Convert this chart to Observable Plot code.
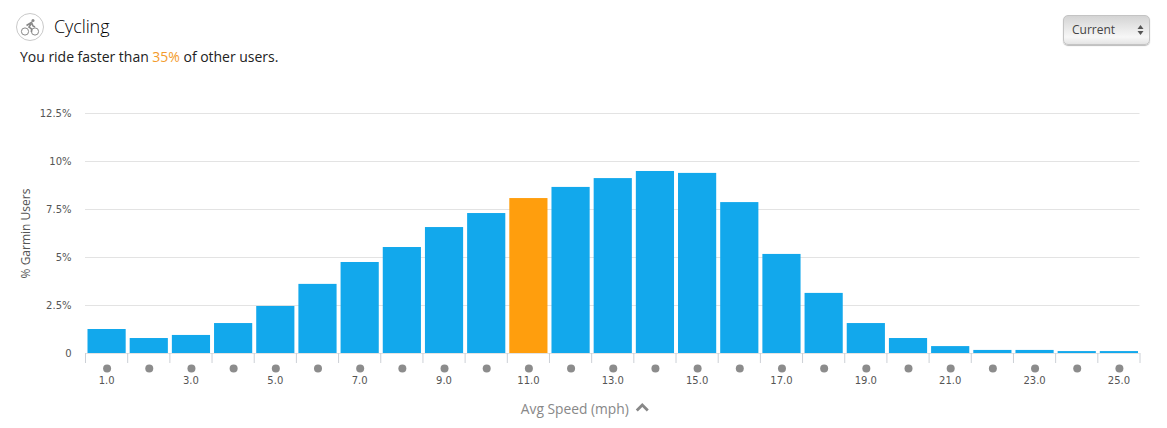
<!DOCTYPE html>
<html>
<head>
<meta charset="utf-8">
<script src="https://cdn.jsdelivr.net/npm/d3@7"></script>
<script src="https://cdn.jsdelivr.net/npm/@observablehq/plot@0.6"></script>
<style>
html,body{margin:0;padding:0;background:#fff;width:1167px;height:428px;overflow:hidden}
#head{position:relative;height:100px;font-family:"Open Sans",sans-serif;color:#222}
#icon{position:absolute;left:16px;top:13px}
#title{position:absolute;left:54px;top:13px;font-size:18px;font-weight:300;line-height:26px;color:#000;letter-spacing:-0.1px}
#sub{position:absolute;left:20px;top:47px;font-size:14px;line-height:20px;color:#222;letter-spacing:-0.02px}
#sub b{font-weight:400;color:#f39c2c}
#sel{position:absolute;left:1063px;top:15px;width:87px;height:30px;box-sizing:border-box;border:1px solid #c4c4c4;border-radius:5px;background:linear-gradient(#d4d4d4,#f7f7f7 75%,#e4e4e4);font-size:12px;line-height:28px;padding-left:8px;color:#444;box-shadow:0 1px 1px #bbb}
#sel svg{position:absolute;right:5px;top:8px}
svg{display:block}
</style>
</head>
<body>
<div id="head">
  <svg id="icon" width="28" height="28" viewBox="0 0 28 28">
    <circle cx="14" cy="14" r="13.5" fill="#fff" stroke="#c9c9c9"/>
    <circle cx="9" cy="18.5" r="3.6" fill="none" stroke="#888" stroke-width="1"/>
    <circle cx="19" cy="18.5" r="3.6" fill="none" stroke="#888" stroke-width="1"/>
    <circle cx="17" cy="7.5" r="1.5" fill="#888"/>
    <path d="M10.5 12.5 L15.5 9.5 L17 13 L19 14 M15 11 L13 14 L15.5 16 L15.5 19" fill="none" stroke="#888" stroke-width="1.6"/>
  </svg>
  <div id="title">Cycling</div>
  <div id="sub">You ride faster than <b>35%</b> of other users.</div>
  <div id="sel">Current<svg width="7" height="12" viewBox="0 0 7 12"><path d="M3.5 1 L6.5 5 L0.5 5Z M3.5 11 L6.5 7 L0.5 7Z" fill="#555"/></svg></div>
</div>
<div id="chart"></div>
<script>
const speeds = [1,2,3,4,5,6,7,8,9,10,11,12,13,14,15,16,17,18,19,20,21,22,23,24,25];
const shares = [1.25,0.78,0.94,1.56,2.45,3.6,4.74,5.52,6.56,7.29,8.07,8.65,9.11,9.48,9.38,7.86,5.16,3.13,1.56,0.78,0.36,0.16,0.16,0.1,0.1];
const yTicks = [0,2.5,5,7.5,10,12.5];
const xLabels = [1,3,5,7,9,11,13,15,17,19,21,23,25];
const userSpeed = 11;
const xEdges = [0.5,...speeds.map(s => s + 0.5)];
const rows = speeds.map((s,i) => ({speed:s, share:shares[i]}));

const chevron = {draw(c){c.moveTo(-5.5,3);c.lineTo(0,-2.5);c.lineTo(5.5,3);}};

const chart = Plot.plot({
  width:1167, height:328,
  marginLeft:85, marginRight:27.5, marginTop:13, marginBottom:75,
  style:{fontFamily:"'DejaVu Sans',sans-serif", fontSize:"10px", background:"#fff", color:"#555"},
  x:{domain:[0.5,25.5]},
  y:{domain:[0,12.5]},
  marks:[
    Plot.gridY(yTicks,{stroke:"#e3e3e3", strokeOpacity:1}),
    Plot.rectY(rows,{x1:d=>d.speed-0.5, x2:d=>d.speed+0.5, y:"share", insetLeft:2.5, insetRight:1.5,
      fill:d=>d.speed===userSpeed?"#ff9e0d":"#12a8ec"}),
    Plot.axisY({ticks:yTicks, tickSize:0, tickPadding:14, tickFormat:d=>d===0?"0":d+"%", label:null, fill:"#555"}),
    Plot.text(["% Garmin Users"],{frameAnchor:"left", textAnchor:"middle", y:()=>6.25, dx:-59, rotate:-90, fontSize:12, fill:"#555", fontFamily:"'Open Sans',sans-serif"}),
    Plot.axisX({ticks:xEdges, tickSize:10, tickPadding:0, text:null, label:null, stroke:"#ccd0d6"}),
    Plot.dot(speeds,{x:d=>d, y:()=>0, dx:0.5, dy:15, r:4, fill:"#8c8c8c"}),
    Plot.axisX({ticks:xLabels, tickSize:0, tickPadding:23, tickFormat:d=>d.toFixed(1), label:null, fill:"#555"}),
    Plot.text(["Avg Speed (mph)"],{x:()=>12.1, y:()=>0, dy:56, fontSize:13.8, fill:"#888", fontFamily:"'Open Sans',sans-serif"}),
    Plot.dot(["chevron"],{x:()=>13.7, y:()=>0, dy:54, symbol:chevron, r:4, stroke:"#888", strokeWidth:2.8, fill:"none"})
  ]
});
document.getElementById("chart").appendChild(chart);
</script>
</body>
</html>
